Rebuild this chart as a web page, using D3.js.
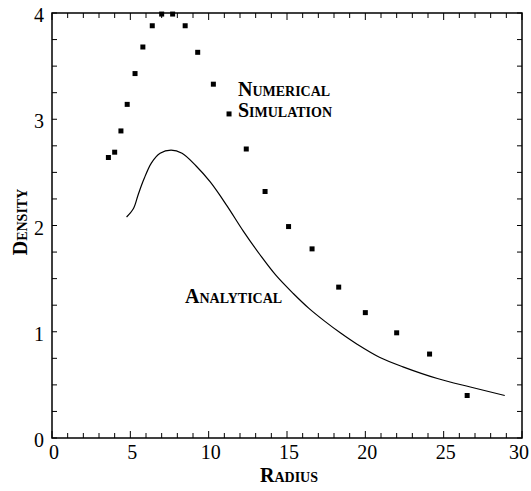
<!DOCTYPE html>
<html lang="en">

<head>
    <meta charset="UTF-8">
    <title>Density vs Radius</title>
    <script src="https://d3js.org/d3.v7.min.js"></script>
    <style>
        body {
            margin: 0;
            background-color: white;
        }

        text {
            font-family: "Liberation Serif", serif;
            fill: black;
        }

        .tick-label {
            font-size: 20px;
        }

        .caps {
            font-size: 20px;
            font-weight: bold;
            font-variant: small-caps;
        }
    </style>
</head>

<body>
    <svg id="chart" width="531" height="491"></svg>

    <script>
        // numerical simulation points
        const simRadius = [3.6, 4.0, 4.4, 4.8, 5.3, 5.8, 6.4, 7.0, 7.7, 8.5, 9.3, 10.3, 11.3, 12.4, 13.6, 15.1, 16.6, 18.3, 20.0, 22.0, 24.1, 26.5];
        const simDensity = [2.64, 2.69, 2.89, 3.14, 3.43, 3.68, 3.88, 3.99, 3.99, 3.88, 3.63, 3.33, 3.05, 2.72, 2.32, 1.99, 1.78, 1.42, 1.18, 0.99, 0.79, 0.40];

        // analytical curve
        const anaRadius = [4.76, 5.2, 5.5, 5.85, 6.35, 6.9, 7.6, 8.3, 9.2, 10.1, 11.15, 12.2, 13.3, 14.3, 15.4, 16.4, 17.4, 18.4, 19.5, 20.9, 22.4, 24.6, 26.7, 28.9];
        const anaDensity = [2.08, 2.16, 2.29, 2.43, 2.59, 2.68, 2.71, 2.68, 2.56, 2.41, 2.19, 1.95, 1.72, 1.53, 1.36, 1.22, 1.10, 0.99, 0.88, 0.76, 0.67, 0.56, 0.48, 0.40];

        const xTickLabels = [0, 5, 10, 15, 20, 25, 30];
        const yTickLabels = [0, 1, 2, 3, 4];

        const svg = d3.select("#chart");
        const margin = { top: 13, right: 9, bottom: 53, left: 52 };
        const width = +svg.attr("width") - margin.left - margin.right;
        const height = +svg.attr("height") - margin.top - margin.bottom;

        const x = d3.scaleLinear().domain([0, 30]).range([0, width]);
        const y = d3.scaleLinear().domain([0, 4]).range([height, 0]);

        const g = svg.append("g")
            .attr("transform", `translate(${margin.left},${margin.top})`);

        // tick marks on all four sides, pointing inward
        const xMinor = d3.range(0, 31, 1);
        const yMinor = d3.range(0, 4.01, 0.25);
        const tickLen = v => (v % 5 === 0 ? 7 : 5);

        g.append("g").selectAll("line")
            .data(xMinor)
            .join("line")
            .attr("x1", d => x(d)).attr("x2", d => x(d))
            .attr("y1", height).attr("y2", d => height - tickLen(d))
            .attr("stroke", "black").attr("stroke-width", 1);

        g.append("g").selectAll("line")
            .data(xMinor)
            .join("line")
            .attr("x1", d => x(d)).attr("x2", d => x(d))
            .attr("y1", 0).attr("y2", d => tickLen(d))
            .attr("stroke", "black").attr("stroke-width", 1);

        g.append("g").selectAll("line")
            .data(yMinor)
            .join("line")
            .attr("y1", d => y(d)).attr("y2", d => y(d))
            .attr("x1", 0).attr("x2", 5)
            .attr("stroke", "black").attr("stroke-width", 1);

        g.append("g").selectAll("line")
            .data(yMinor)
            .join("line")
            .attr("y1", d => y(d)).attr("y2", d => y(d))
            .attr("x1", width).attr("x2", width - 5)
            .attr("stroke", "black").attr("stroke-width", 1);

        // frame
        g.append("rect")
            .attr("width", width)
            .attr("height", height)
            .attr("fill", "none")
            .attr("stroke", "black")
            .attr("stroke-width", 1.5);

        // tick labels
        g.append("g").selectAll("text")
            .data(xTickLabels)
            .join("text")
            .attr("class", "tick-label")
            .attr("x", d => Math.min(x(d) + 2, width - 3))
            .attr("y", height + 21)
            .attr("text-anchor", "middle")
            .text(d => d);

        g.append("g").selectAll("text")
            .data(yTickLabels)
            .join("text")
            .attr("class", "tick-label")
            .attr("x", -8)
            .attr("y", d => y(d) + 9)
            .attr("text-anchor", "end")
            .text(d => d);

        // axis titles
        svg.append("text")
            .attr("class", "caps")
            .attr("x", 289)
            .attr("y", 482)
            .attr("text-anchor", "middle")
            .text("Radius");

        svg.append("text")
            .attr("class", "caps")
            .attr("transform", "translate(27,222) rotate(-90)")
            .attr("text-anchor", "middle")
            .text("Density");

        // analytical line
        const line = d3.line()
            .x(d => x(d[0]))
            .y(d => y(d[1]))
            .curve(d3.curveCatmullRom.alpha(0.5));

        g.append("path")
            .datum(d3.zip(anaRadius, anaDensity))
            .attr("d", line)
            .attr("fill", "none")
            .attr("stroke", "black")
            .attr("stroke-width", 1.2);

        // simulation markers
        g.append("g").selectAll("rect")
            .data(d3.zip(simRadius, simDensity))
            .join("rect")
            .attr("x", d => x(d[0]) - 2.5)
            .attr("y", d => y(d[1]) - 2.5)
            .attr("width", 5)
            .attr("height", 5)
            .attr("fill", "black");

        // annotations
        g.append("text")
            .attr("class", "caps")
            .attr("x", x(11.87))
            .attr("y", y(3.22))
            .text("Numerical");

        g.append("text")
            .attr("class", "caps")
            .attr("x", x(11.87))
            .attr("y", y(3.02))
            .text("Simulation");

        g.append("text")
            .attr("class", "caps")
            .attr("x", x(8.49))
            .attr("y", y(1.27))
            .text("Analytical");
    </script>
</body>

</html>
